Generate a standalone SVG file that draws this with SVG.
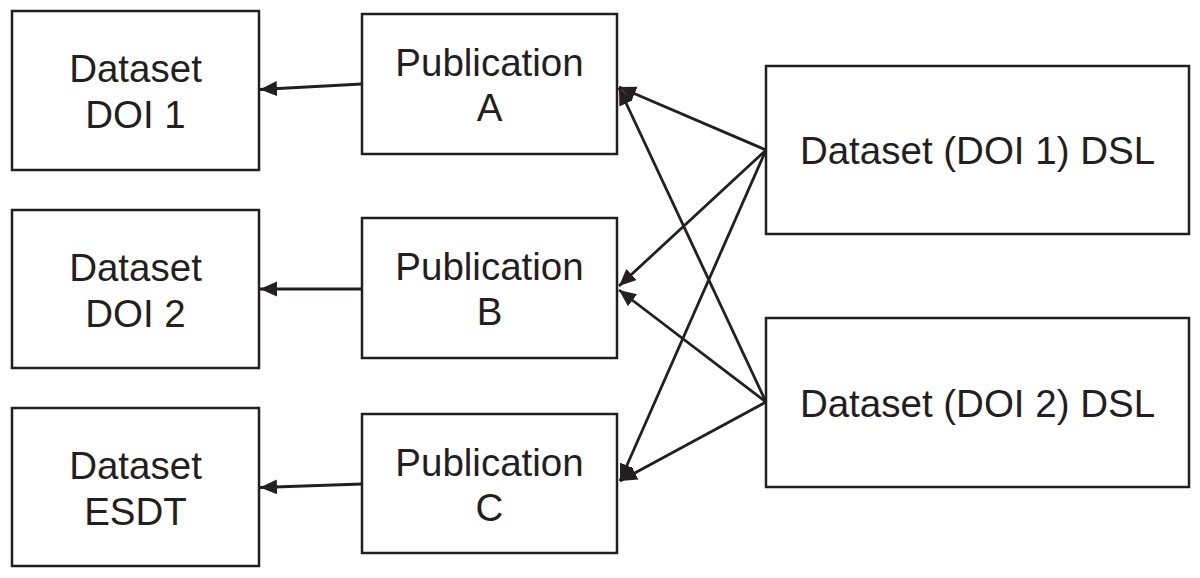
<svg xmlns="http://www.w3.org/2000/svg" width="1200" height="578" viewBox="0 0 1200 578">
<style>
.box{fill:#fff;stroke:#231f20;stroke-width:2.5}
.t{font-family:"Liberation Sans",Arial,sans-serif;font-size:38.5px;fill:#231f20;text-anchor:middle}
.c{stroke:#231f20;stroke-width:2.8;fill:none;marker-end:url(#ah)}
</style>
<defs>
<marker id="ah" markerUnits="userSpaceOnUse" markerWidth="20" markerHeight="16" refX="17" refY="7.5" orient="auto">
<path d="M0,0 L17,7.5 L0,15 z" fill="#231f20"/>
</marker>
</defs>
<rect width="1200" height="578" fill="#fff"/>
<g id="ds1"><rect class="box" x="12" y="11" width="247" height="159"/><text class="t" x="135.5" y="82">Dataset</text><text class="t" x="135.5" y="128">DOI 1</text></g>
<g id="ds2"><rect class="box" x="12" y="210" width="247" height="158"/><text class="t" x="135.5" y="280.5">Dataset</text><text class="t" x="135.5" y="326.5">DOI 2</text></g>
<g id="ds3"><rect class="box" x="12" y="408" width="247" height="158"/><text class="t" x="135.5" y="478.5">Dataset</text><text class="t" x="135.5" y="524.5">ESDT</text></g>
<g id="pa"><rect class="box" x="362" y="14" width="255" height="140"/><text class="t" x="489.5" y="76">Publication</text><text class="t" x="489.5" y="121">A</text></g>
<g id="pb"><rect class="box" x="362" y="218" width="255" height="140"/><text class="t" x="489.5" y="280">Publication</text><text class="t" x="489.5" y="325">B</text></g>
<g id="pc"><rect class="box" x="362" y="414" width="255" height="139"/><text class="t" x="489.5" y="475.5">Publication</text><text class="t" x="489.5" y="520.5">C</text></g>
<g id="dsl1"><rect class="box" x="766" y="66" width="423" height="168"/><text class="t" x="977.5" y="164">Dataset (DOI 1) DSL</text></g>
<g id="dsl2"><rect class="box" x="766" y="318" width="423" height="169"/><text class="t" x="977.5" y="417">Dataset (DOI 2) DSL</text></g>
<g id="connectors">
<line class="c" x1="362" y1="84" x2="260" y2="89.5"/>
<line class="c" x1="362" y1="289" x2="260" y2="289"/>
<line class="c" x1="362" y1="484" x2="260" y2="487.5"/>
<line class="c" x1="766" y1="150" x2="619" y2="87"/>
<line class="c" x1="766" y1="150" x2="619" y2="286"/>
<line class="c" x1="766" y1="150" x2="620" y2="481"/>
<line class="c" x1="766" y1="402" x2="619" y2="88"/>
<line class="c" x1="766" y1="402" x2="619" y2="290"/>
<line class="c" x1="766" y1="402" x2="620" y2="481"/>
</g>
</svg>
